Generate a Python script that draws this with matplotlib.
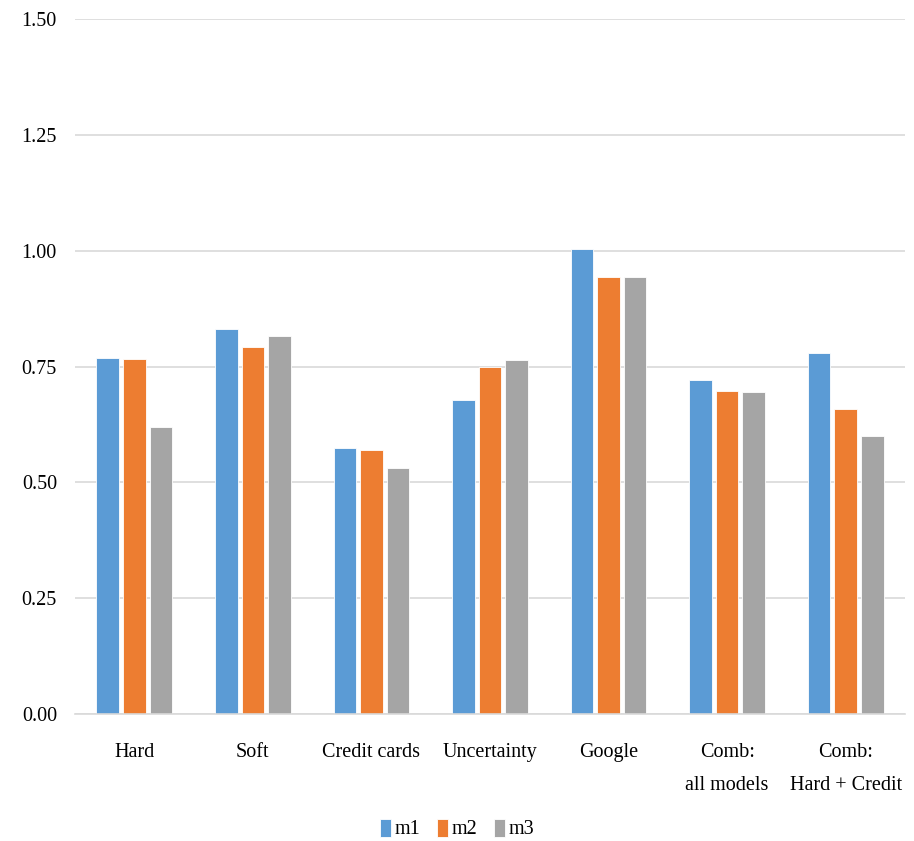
import numpy as np
import matplotlib
matplotlib.use('Agg')
import matplotlib.pyplot as plt

plt.rcParams['font.family'] = ['Liberation Serif', 'DejaVu Serif']
plt.rcParams['font.size'] = 14.5

categories = ['Hard', 'Soft', 'Credit cards', 'Uncertainty', 'Google',
              'Comb:\nall models', 'Comb:\nHard + Credit']
m1 = [0.768, 0.832, 0.575, 0.677, 1.004, 0.720, 0.779]
m2 = [0.766, 0.793, 0.569, 0.748, 0.943, 0.698, 0.658]
m3 = [0.619, 0.816, 0.531, 0.764, 0.943, 0.696, 0.601]
series = [('m1', m1, '#5B9BD5'), ('m2', m2, '#ED7D31'), ('m3', m3, '#A5A5A5')]
yticks = [0.0, 0.25, 0.5, 0.75, 1.0, 1.25, 1.5]

fig = plt.figure(figsize=(9.14, 8.41), dpi=100)
ax = fig.add_axes([75 / 914, 1 - 714 / 841, 830 / 914, 695 / 841])

x = np.arange(len(categories))
step = 0.224
for i, (name, vals, color) in enumerate(series):
    ax.bar(x + (i - 1) * step, vals, width=0.19, color=color,
           edgecolor='white', linewidth=0.6, label=name, zorder=3)

ax.set_xlim(-0.5, len(categories) - 0.5)
ax.set_ylim(0, 1.5)
ax.set_yticks(yticks)
ax.set_yticklabels([f'{v:.2f}' for v in yticks])
ax.set_xticks(x)
ax.set_xticklabels(categories, linespacing=2.0, va='top')
ax.tick_params(axis='y', length=0, pad=13)
ax.tick_params(axis='x', length=0, pad=21)
ax.grid(axis='y', color='#D9D9D9', linewidth=1.2, zorder=0)
for s in ['top', 'right', 'left']:
    ax.spines[s].set_visible(False)
ax.spines['bottom'].set_color('#D9D9D9')
ax.spines['bottom'].set_linewidth(1.2)
ax.spines['bottom'].set_zorder(4)

fig.legend(loc='center', bbox_to_anchor=(457 / 914, 1 - 829 / 841), ncol=3,
           frameon=False, handlelength=0.55, handleheight=1.0,
           handletextpad=0.2, columnspacing=0.8, borderpad=0)

fig.savefig('out.png', dpi=100)
